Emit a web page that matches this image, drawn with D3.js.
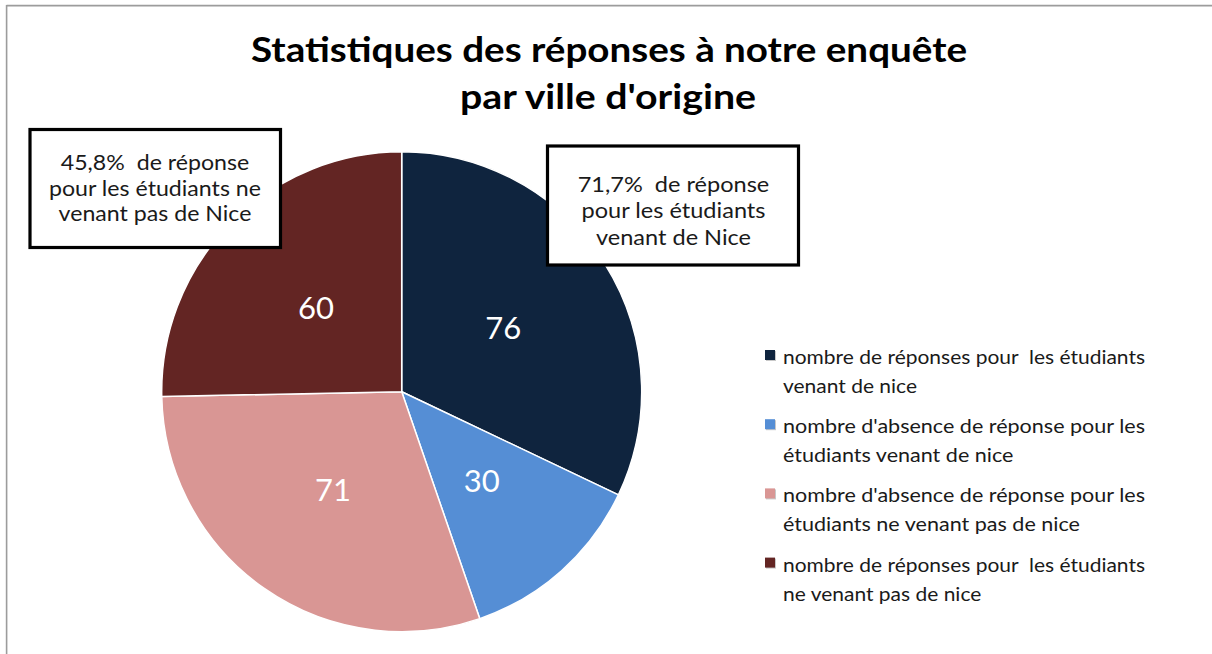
<!DOCTYPE html>
<html>
<head>
<meta charset="utf-8">
<script src="https://cdn.jsdelivr.net/npm/d3@7"></script>
<style>
  html, body { margin: 0; padding: 0; background: #fff; }
  svg { display: block; }
  text { white-space: pre; }
</style>
</head>
<body>
<svg id="chart" width="1212" height="654"></svg>
<script>
// ---- data ----
const titleLines = ["Statistiques des réponses à notre enquête", "par ville d'origine"];
const categories = [
  "nombre de réponses pour les étudiants venant de nice",
  "nombre d'absence de réponse pour les étudiants venant de nice",
  "nombre d'absence de réponse pour les étudiants ne venant pas de nice",
  "nombre de réponses pour les étudiants ne venant pas de nice"
];
const values = [76, 30, 71, 60];
const legendLines = [
  ["nombre de réponses pour  les étudiants", "venant de nice"],
  ["nombre d'absence de réponse pour les", "étudiants venant de nice"],
  ["nombre d'absence de réponse pour les", "étudiants ne venant pas de nice"],
  ["nombre de réponses pour  les étudiants", "ne venant pas de nice"]
];
const noteLeft = ["45,8%  de réponse", "pour les étudiants ne", "venant pas de Nice"];
const noteRight = ["71,7%  de réponse", "pour les étudiants", "venant de Nice"];
const palette = ["#0F243E", "#558ED5", "#D99694", "#632523"];

// ---- drawing ----
const svg = d3.select("#chart");
const FONT = "Lato, 'Open Sans', sans-serif";

// frame
svg.append("line").attr("x1", 6.5).attr("y1", 5.6).attr("x2", 1212).attr("y2", 5.6)
  .attr("stroke", "#9c9c9c").attr("stroke-width", 1.6);
svg.append("line").attr("x1", 6.6).attr("y1", 5).attr("x2", 6.6).attr("y2", 654)
  .attr("stroke", "#9c9c9c").attr("stroke-width", 1.6);

// helper: draw text lines and squeeze horizontally like Calibri
function textBlock(g, lines, opts) {
  const sel = g.selectAll(null).data(lines).enter().append("text")
    .attr("x", opts.x)
    .attr("y", (d, i) => opts.y + i * opts.dy)
    .attr("text-anchor", opts.anchor || "middle")
    .attr("font-family", FONT)
    .attr("font-size", opts.size)
    .attr("font-weight", opts.weight || "normal")
    .attr("fill", opts.fill || "#000")
    .attr("xml:space", "preserve")
    .text(d => d);
  const nodes = sel.nodes();
  const ref = nodes[opts.refIndex || 0].getComputedTextLength();
  const k = opts.refWidth / ref;
  nodes.forEach(n => {
    const w = n.getComputedTextLength();
    n.setAttribute("textLength", (w * k).toFixed(2));
    n.setAttribute("lengthAdjust", "spacingAndGlyphs");
  });
  return sel;
}

// title
const titleG = svg.append("g");
textBlock(titleG, [titleLines[0]], { x: 609, y: 62, dy: 0, size: 35, weight: "bold", refWidth: 716 });
textBlock(titleG, [titleLines[1]], { x: 608, y: 109, dy: 0, size: 35, weight: "bold", refWidth: 296 });

// pie
const cx = 401.7, cy = 391.7, R = 240;
const pie = d3.pie().sort(null).value(d => d)(values);
const arc = d3.arc().innerRadius(0).outerRadius(R);
const labelArc = d3.arc().innerRadius(0).outerRadius(R);
const color = d3.scaleOrdinal().domain(d3.range(values.length)).range(palette);

const pieG = svg.append("g").attr("transform", `translate(${cx},${cy})`);
pieG.selectAll("path").data(pie).enter().append("path")
  .attr("d", arc)
  .attr("fill", (d, i) => color(i))
  .attr("stroke", "#fff")
  .attr("stroke-width", 1.5)
  .attr("stroke-linejoin", "round");

pieG.selectAll("text.val").data(pie).enter().append("text")
  .attr("class", "val")
  .attr("transform", d => {
    const c = labelArc.centroid(d);
    return `translate(${c[0]},${c[1]})`;
  })
  .attr("dy", "0.36em")
  .attr("text-anchor", "middle")
  .attr("font-family", FONT)
  .attr("font-size", 31)
  .attr("fill", "#fff")
  .text(d => d.data);

// annotation boxes
function noteBox(x, y, w, h, lines, tx, ty, dy, refW, refIdx) {
  const g = svg.append("g");
  g.append("rect").attr("x", x).attr("y", y).attr("width", w).attr("height", h)
    .attr("fill", "#fff").attr("stroke", "#000").attr("stroke-width", 3.2);
  textBlock(g, lines, { x: tx, y: ty, dy: dy, size: 21.5, fill: "#1a1a1a", refWidth: refW, refIndex: refIdx });
}
noteBox(30, 129.5, 250.5, 118, noteLeft, 155, 170, 25.5, 212, 1);
noteBox(547.5, 146, 251, 119, noteRight, 673.5, 191.5, 26.8, 184, 1);

// legend
const legG = svg.append("g");
const legX = 765, legY = 350, legStep = 69.2, lineGap = 29;
categories.forEach((c, i) => {
  const y0 = legY + i * legStep;
  legG.append("rect").attr("x", legX + 1).attr("y", y0 + 1).attr("width", 10).attr("height", 10)
    .attr("fill", "#c8c8c8");
  legG.append("rect").attr("x", legX).attr("y", y0).attr("width", 10).attr("height", 10)
    .attr("fill", color(i));
  const g = legG.append("g");
  g.append("title").text(c);
  textBlock(g, legendLines[i], { x: 783, y: y0 + 14, dy: lineGap, size: 19.5, anchor: "start", fill: "#1a1a1a", refWidth: 362 });
});
</script>
</body>
</html>
